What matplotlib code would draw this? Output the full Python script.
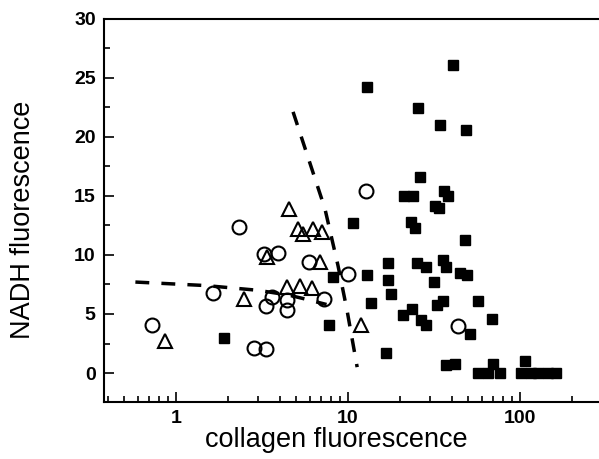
import matplotlib
matplotlib.use("Agg")
import matplotlib.pyplot as plt

plt.rcParams['font.family'] = ['Liberation Sans', 'DejaVu Sans']

# filled squares
sq_x = [40.8, 12.9, 25.5, 34.3, 48.5, 26.2, 21.1, 23.9, 36.2, 38.0, 32.1, 33.8,
        10.7, 23.2, 24.6, 48.0, 17.1, 25.2, 28.5, 35.6, 37.1, 44.8, 49.1, 8.2,
        12.9, 17.1, 31.7, 17.8, 56.9, 13.6, 32.8, 35.6, 20.9, 23.5, 26.5, 28.5,
        7.8, 68.5, 51.2, 16.6, 37.1, 41.8, 57.0, 65.1, 76.1, 69.5, 106.7, 102,
        116, 128, 145, 162, 1.90]
sq_y = [26.1, 24.2, 22.4, 21.0, 20.6, 16.6, 15.0, 15.0, 15.4, 15.0, 14.1, 14.0,
        12.7, 12.8, 12.3, 11.3, 9.3, 9.3, 9.0, 9.6, 9.0, 8.5, 8.3, 8.1,
        8.3, 7.9, 7.7, 6.7, 6.1, 5.9, 5.8, 6.1, 4.9, 5.4, 4.5, 4.1,
        4.1, 4.6, 3.3, 1.7, 0.7, 0.8, 0.0, 0.0, 0.0, 0.8, 1.0, 0.0,
        0.0, 0.0, 0.0, 0.0, 3.0]

# open circles
ci_x = [2.33, 12.7, 3.25, 3.92, 5.94, 10.0, 1.64, 3.62, 3.34, 4.42, 4.42, 7.26,
        0.725, 2.84, 3.34, 43.6]
ci_y = [12.4, 15.4, 10.1, 10.2, 9.4, 8.4, 6.8, 6.4, 5.7, 6.2, 5.3, 6.3,
        4.1, 2.1, 2.0, 4.0]

# open triangles
tr_x = [4.54, 5.12, 5.47, 6.26, 7.05, 3.38, 6.87, 2.48, 4.42, 5.26, 6.18, 0.863, 11.9]
tr_y = [13.9, 12.2, 11.8, 12.2, 11.9, 9.8, 9.4, 6.3, 7.3, 7.4, 7.2, 2.7, 4.1]

# dashed boundaries
b1_x = [0.58, 1.5, 3.0, 4.5, 5.5, 7.5]
b1_y = [7.7, 7.4, 7.0, 6.6, 6.3, 5.8]
b2_x = [4.79, 7.34, 8.74, 9.87, 11.3]
b2_y = [22.1, 13.9, 9.1, 5.3, 0.5]

fig = plt.figure(figsize=(5.99, 4.59), dpi=100)
ax = fig.add_axes([104 / 599, 1 - 402 / 459, 1 - 104 / 599, (402 - 18.5) / 459])

ax.plot(sq_x, sq_y, 's', color='black', markersize=7, linestyle='none')
ax.plot(ci_x, ci_y, 'o', mfc='none', mec='black', mew=1.5, markersize=10, linestyle='none')
ax.plot(tr_x, tr_y, '^', mfc='none', mec='black', mew=1.5, markersize=10, linestyle='none')

ax.plot(b1_x, b1_y, color='black', lw=2.5, dashes=(4, 3.5))
ax.plot(b2_x, b2_y, color='black', lw=2.5, dashes=(4, 3.5))

ax.set_xscale('log')
ax.set_xlim(0.381, 288)
ax.set_ylim(-2.45, 30)
ax.set_yticks([0, 5, 10, 15, 20, 25, 30])
ax.set_yticks([2.5, 7.5, 12.5, 17.5, 22.5, 27.5], minor=True)
ax.set_xticks([1, 10, 100])
ax.set_xticklabels(['1', '10', '100'])

ax.spines['right'].set_visible(False)
for s in ax.spines.values():
    s.set_linewidth(1.5)

ax.tick_params(which='both', direction='in', top=False, right=False, width=1.2)
ax.tick_params(which='major', length=7, labelsize=14, pad=6)
ax.tick_params(which='minor', length=4)
for lab in ax.get_xticklabels() + ax.get_yticklabels():
    lab.set_fontweight('bold')

ax.set_xlabel('collagen fluorescence', fontsize=19.5)
ax.set_ylabel('NADH fluorescence', fontsize=19.5)
ax.xaxis.set_label_coords(0.47, -0.065)
ax.yaxis.set_label_coords(-0.137, 0.475)

fig.savefig('out.png', dpi=100)
